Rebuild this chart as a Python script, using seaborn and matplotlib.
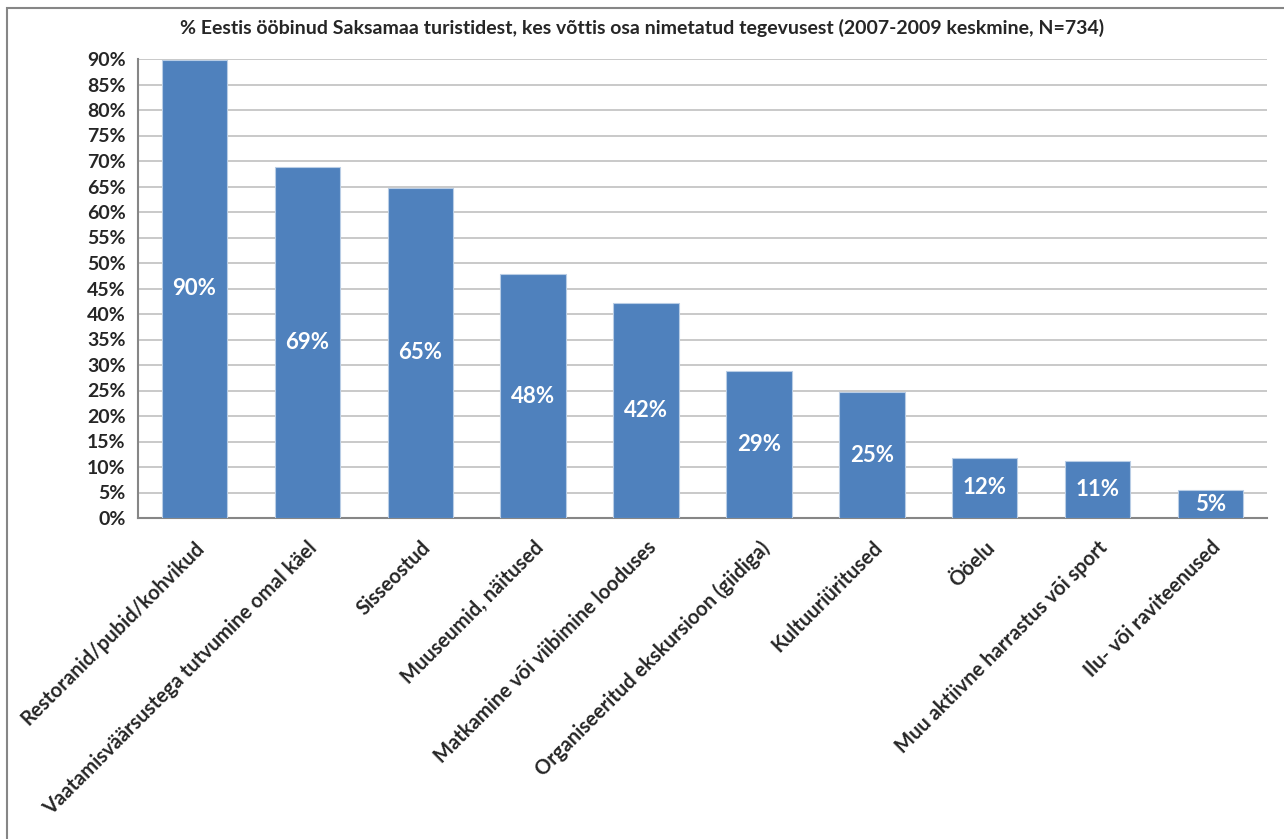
import numpy as np
import pandas as pd
import matplotlib.pyplot as plt
import matplotlib.patches as mpatches
from matplotlib.ticker import FixedLocator
import seaborn as sb

# Data
categories = ['Restoranid/pubid/kohvikud', 'Vaatamisväärsustega tutvumine omal käel',
              'Sisseostud', 'Muuseumid, näitused', 'Matkamine või viibimine looduses',
              'Organiseeritud ekskursioon (giidiga)', 'Kultuuriüritused', 'Ööelu',
              'Muu aktiivne harrastus või sport', 'Ilu- või raviteenused']
values = [89.9, 68.8, 64.8, 47.8, 42.1, 28.9, 24.7, 11.8, 11.2, 5.4]
yticks = list(range(0, 95, 5))
title = '% Eestis ööbinud Saksamaa turistidest, kes võttis osa nimetatud tegevusest (2007-2009 keskmine, N=734)'

df = pd.DataFrame({'tegevus': categories, 'osakaal': values})

sb.set_style('white')
plt.rcParams['font.family'] = ['Lato', 'DejaVu Sans']

fig = plt.figure(figsize=(12.84, 8.39), dpi=100)
ax = fig.add_axes([138 / 1284, 1 - 518 / 839, (1267 - 138) / 1284, (518 - 59) / 839])

sb.barplot(data=df, x='tegevus', y='osakaal', color='#4F81BD', saturation=1,
           width=0.58, edgecolor='#b9cde5', linewidth=0.8, ax=ax, zorder=3)

# value labels in the middle of the bars
for p, v in zip(ax.patches, values):
    ax.text(p.get_x() + p.get_width() / 2, v / 2, f'{round(v)}%', ha='center', va='center',
            color='white', fontsize=16, fontweight='bold', zorder=4)

ax.set_ylim(0, 90)
ax.set_xlim(-0.5, len(categories) - 0.5)
ax.set_yticks(yticks)
ax.set_yticklabels([f'{t}%' for t in yticks], fontsize=14, fontweight='bold')
ax.yaxis.grid(True, color='#c0c0c0', linewidth=1.2, zorder=0)
ax.set_axisbelow(True)

ax.set_xticks(range(len(categories)))
ax.set_xticklabels(categories, rotation=45, ha='right', rotation_mode='anchor',
                   fontsize=14.5, fontweight='bold')
ax.xaxis.set_minor_locator(FixedLocator(np.arange(-0.5, len(categories), 1.0)))
ax.tick_params(axis='x', which='major', length=0, pad=14)
ax.tick_params(axis='x', which='minor', length=5, color='#868686', width=1.2, direction='out')
ax.tick_params(axis='y', which='major', length=5, color='#868686', width=1.2, direction='out', pad=4)
ax.set_xlabel('')
ax.set_ylabel('')

for s in ['top', 'right']:
    ax.spines[s].set_visible(False)
for s in ['left', 'bottom']:
    ax.spines[s].set_color('#868686')
    ax.spines[s].set_linewidth(1.5)

fig.text(0.5, 1 - 28 / 839, title, ha='center', va='center', fontsize=14, fontweight='bold')

# chart area frame
fig.add_artist(mpatches.Rectangle((7 / 1284, -0.1), 1.2, 1.1 - 8 / 839, transform=fig.transFigure,
                                  fill=False, edgecolor='#868686', linewidth=1.5))

fig.savefig('out.png', dpi=100)
